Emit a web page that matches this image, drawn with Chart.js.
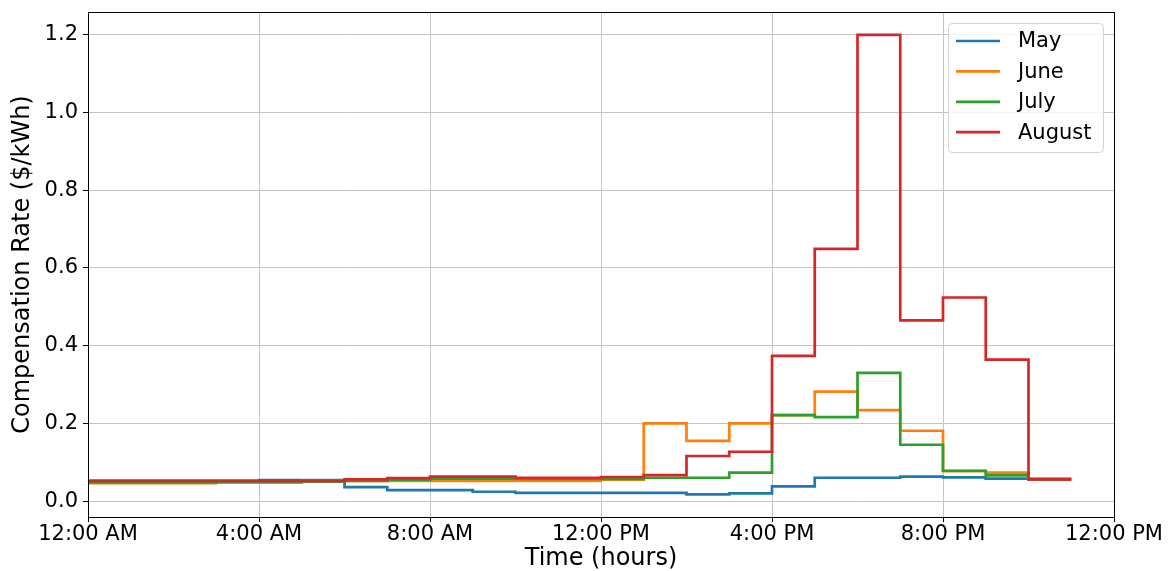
<!DOCTYPE html>
<html>
<head>
<meta charset="utf-8">
<script src="https://cdn.jsdelivr.net/npm/chart.js@4.4.1/dist/chart.umd.min.js"></script>
<style>
  html, body { margin: 0; padding: 0; background: #fff; }
  #wrap { width: 1171px; height: 571px; }
</style>
</head>
<body>
<div id="wrap"><canvas id="myChart" width="1171" height="571"></canvas></div>
<script>
// data block
var hours = [0, 1, 2, 3, 4, 5, 6, 7, 8, 9, 10, 11, 12, 13, 14, 15, 16, 17, 18, 19, 20, 21, 22, 23];
var tickLabels = ['12:00 AM', '4:00 AM', '8:00 AM', '12:00 PM', '4:00 PM', '8:00 PM', '12:00 PM'];
var months = ['May', 'June', 'July', 'August'];
var mayRate = [0.052, 0.052, 0.052, 0.052, 0.054, 0.054, 0.036, 0.028, 0.028, 0.024, 0.021, 0.021,
               0.021, 0.021, 0.017, 0.020, 0.038, 0.060, 0.060, 0.063, 0.061, 0.058, 0.057, 0.057];
var juneRate = [0.046, 0.046, 0.046, 0.050, 0.050, 0.052, 0.052, 0.052, 0.052, 0.052, 0.052, 0.052,
                0.055, 0.200, 0.155, 0.200, 0.221, 0.282, 0.234, 0.181, 0.077, 0.073, 0.057, 0.057];
var julyRate = [0.048, 0.048, 0.048, 0.048, 0.048, 0.050, 0.052, 0.055, 0.058, 0.058, 0.057, 0.057,
                0.057, 0.060, 0.060, 0.073, 0.221, 0.216, 0.330, 0.145, 0.078, 0.066, 0.056, 0.056];
var augustRate = [0.052, 0.052, 0.052, 0.052, 0.052, 0.052, 0.056, 0.059, 0.063, 0.063, 0.060, 0.060,
                  0.062, 0.067, 0.116, 0.127, 0.374, 0.649, 1.200, 0.465, 0.524, 0.364, 0.056, 0.056];
var colors = ['#1f77b4', '#ff7f0e', '#2ca02c', '#d62728'];

function toPoints(vals) {
    return hours.map(function (h, i) { return { x: h, y: vals[i] }; });
}

var series = [mayRate, juneRate, julyRate, augustRate];
var datasets = series.map(function (vals, i) {
    return {
        label: months[i],
        data: toPoints(vals),
        borderColor: colors[i],
        backgroundColor: colors[i],
        borderWidth: 2.7,
        pointRadius: 0,
        stepped: true,
        fill: false,
        order: series.length - i // august drawn on top
    };
});

var FONT = 'DejaVu Sans';
Chart.defaults.color = '#000';
Chart.defaults.font.family = FONT;

// box around plot + legend inside the plot (matplotlib style)
var framePlugin = {
    id: 'frame',
    afterDraw: function (chart) {
        var ctx = chart.ctx, a = chart.chartArea;
        ctx.save();
        ctx.strokeStyle = '#000';
        ctx.lineWidth = 1;
        ctx.strokeRect(Math.round(a.left) + 0.5, Math.round(a.top) + 0.5,
            Math.round(a.right - a.left), Math.round(a.bottom - a.top));

        // legend
        var w = 155, h = 129;
        var x0 = a.right - 11 - w, y0 = a.top + 11;
        ctx.fillStyle = 'rgba(255,255,255,0.8)';
        ctx.strokeStyle = '#d4d4d4';
        ctx.beginPath();
        ctx.roundRect(x0 + 0.5, y0 + 0.5, w, h, 4);
        ctx.fill();
        ctx.stroke();
        ctx.font = '21px "' + FONT + '"';
        ctx.textBaseline = 'middle';
        ctx.textAlign = 'left';
        chart.data.datasets.forEach(function (ds, i) {
            var cy = y0 + 18 + i * 30.4;
            ctx.strokeStyle = ds.borderColor;
            ctx.lineWidth = 2.7;
            ctx.beginPath();
            ctx.moveTo(x0 + 8, cy);
            ctx.lineTo(x0 + 52, cy);
            ctx.stroke();
            ctx.fillStyle = '#000';
            ctx.fillText(ds.label, x0 + 70, cy + 1);
        });
        ctx.restore();
    }
};

var myCrt = document.getElementById('myChart');
var rateChart = new Chart(myCrt, {
    type: 'line',
    data: { datasets: datasets },
    plugins: [framePlugin],
    options: {
        responsive: false,
        animation: false,
        layout: { padding: { top: 12, right: 57, left: 0, bottom: 0 } },
        plugins: {
            legend: { display: false },
            tooltip: { enabled: false }
        },
        scales: {
            x: {
                type: 'linear',
                min: 0,
                max: 24,
                afterFit: function (s) {
                    s.height = 54;
                    s.paddingLeft = 0;
                    s.paddingRight = 0;
                },
                ticks: {
                    stepSize: 4,
                    padding: 0,
                    maxRotation: 0,
                    font: { size: 21 },
                    callback: function (v) { return tickLabels[Math.round(v / 4)]; }
                },
                grid: { color: '#c4c4c4', lineWidth: 1, tickLength: 5, tickColor: '#000' },
                border: { display: true, color: '#000' },
                title: {
                    display: true,
                    text: 'Time (hours)',
                    font: { size: 24, lineHeight: 1.0 },
                    padding: { top: 0, bottom: 0 }
                }
            },
            y: {
                min: -0.041,
                max: 1.259,
                afterFit: function (s) {
                    s.width = 88;
                    s.paddingTop = 0;
                    s.paddingBottom = 0;
                },
                ticks: {
                    stepSize: 0.2,
                    includeBounds: false,
                    padding: 5,
                    font: { size: 21 },
                    callback: function (v) { return v.toFixed(1); }
                },
                grid: { color: '#c4c4c4', lineWidth: 1, tickLength: 5, tickColor: '#000' },
                border: { display: true, color: '#000' },
                title: {
                    display: true,
                    text: 'Compensation Rate ($/kWh)',
                    font: { size: 24 },
                    padding: { top: 8, bottom: 0 }
                }
            }
        }
    }
});
</script>
</body>
</html>
